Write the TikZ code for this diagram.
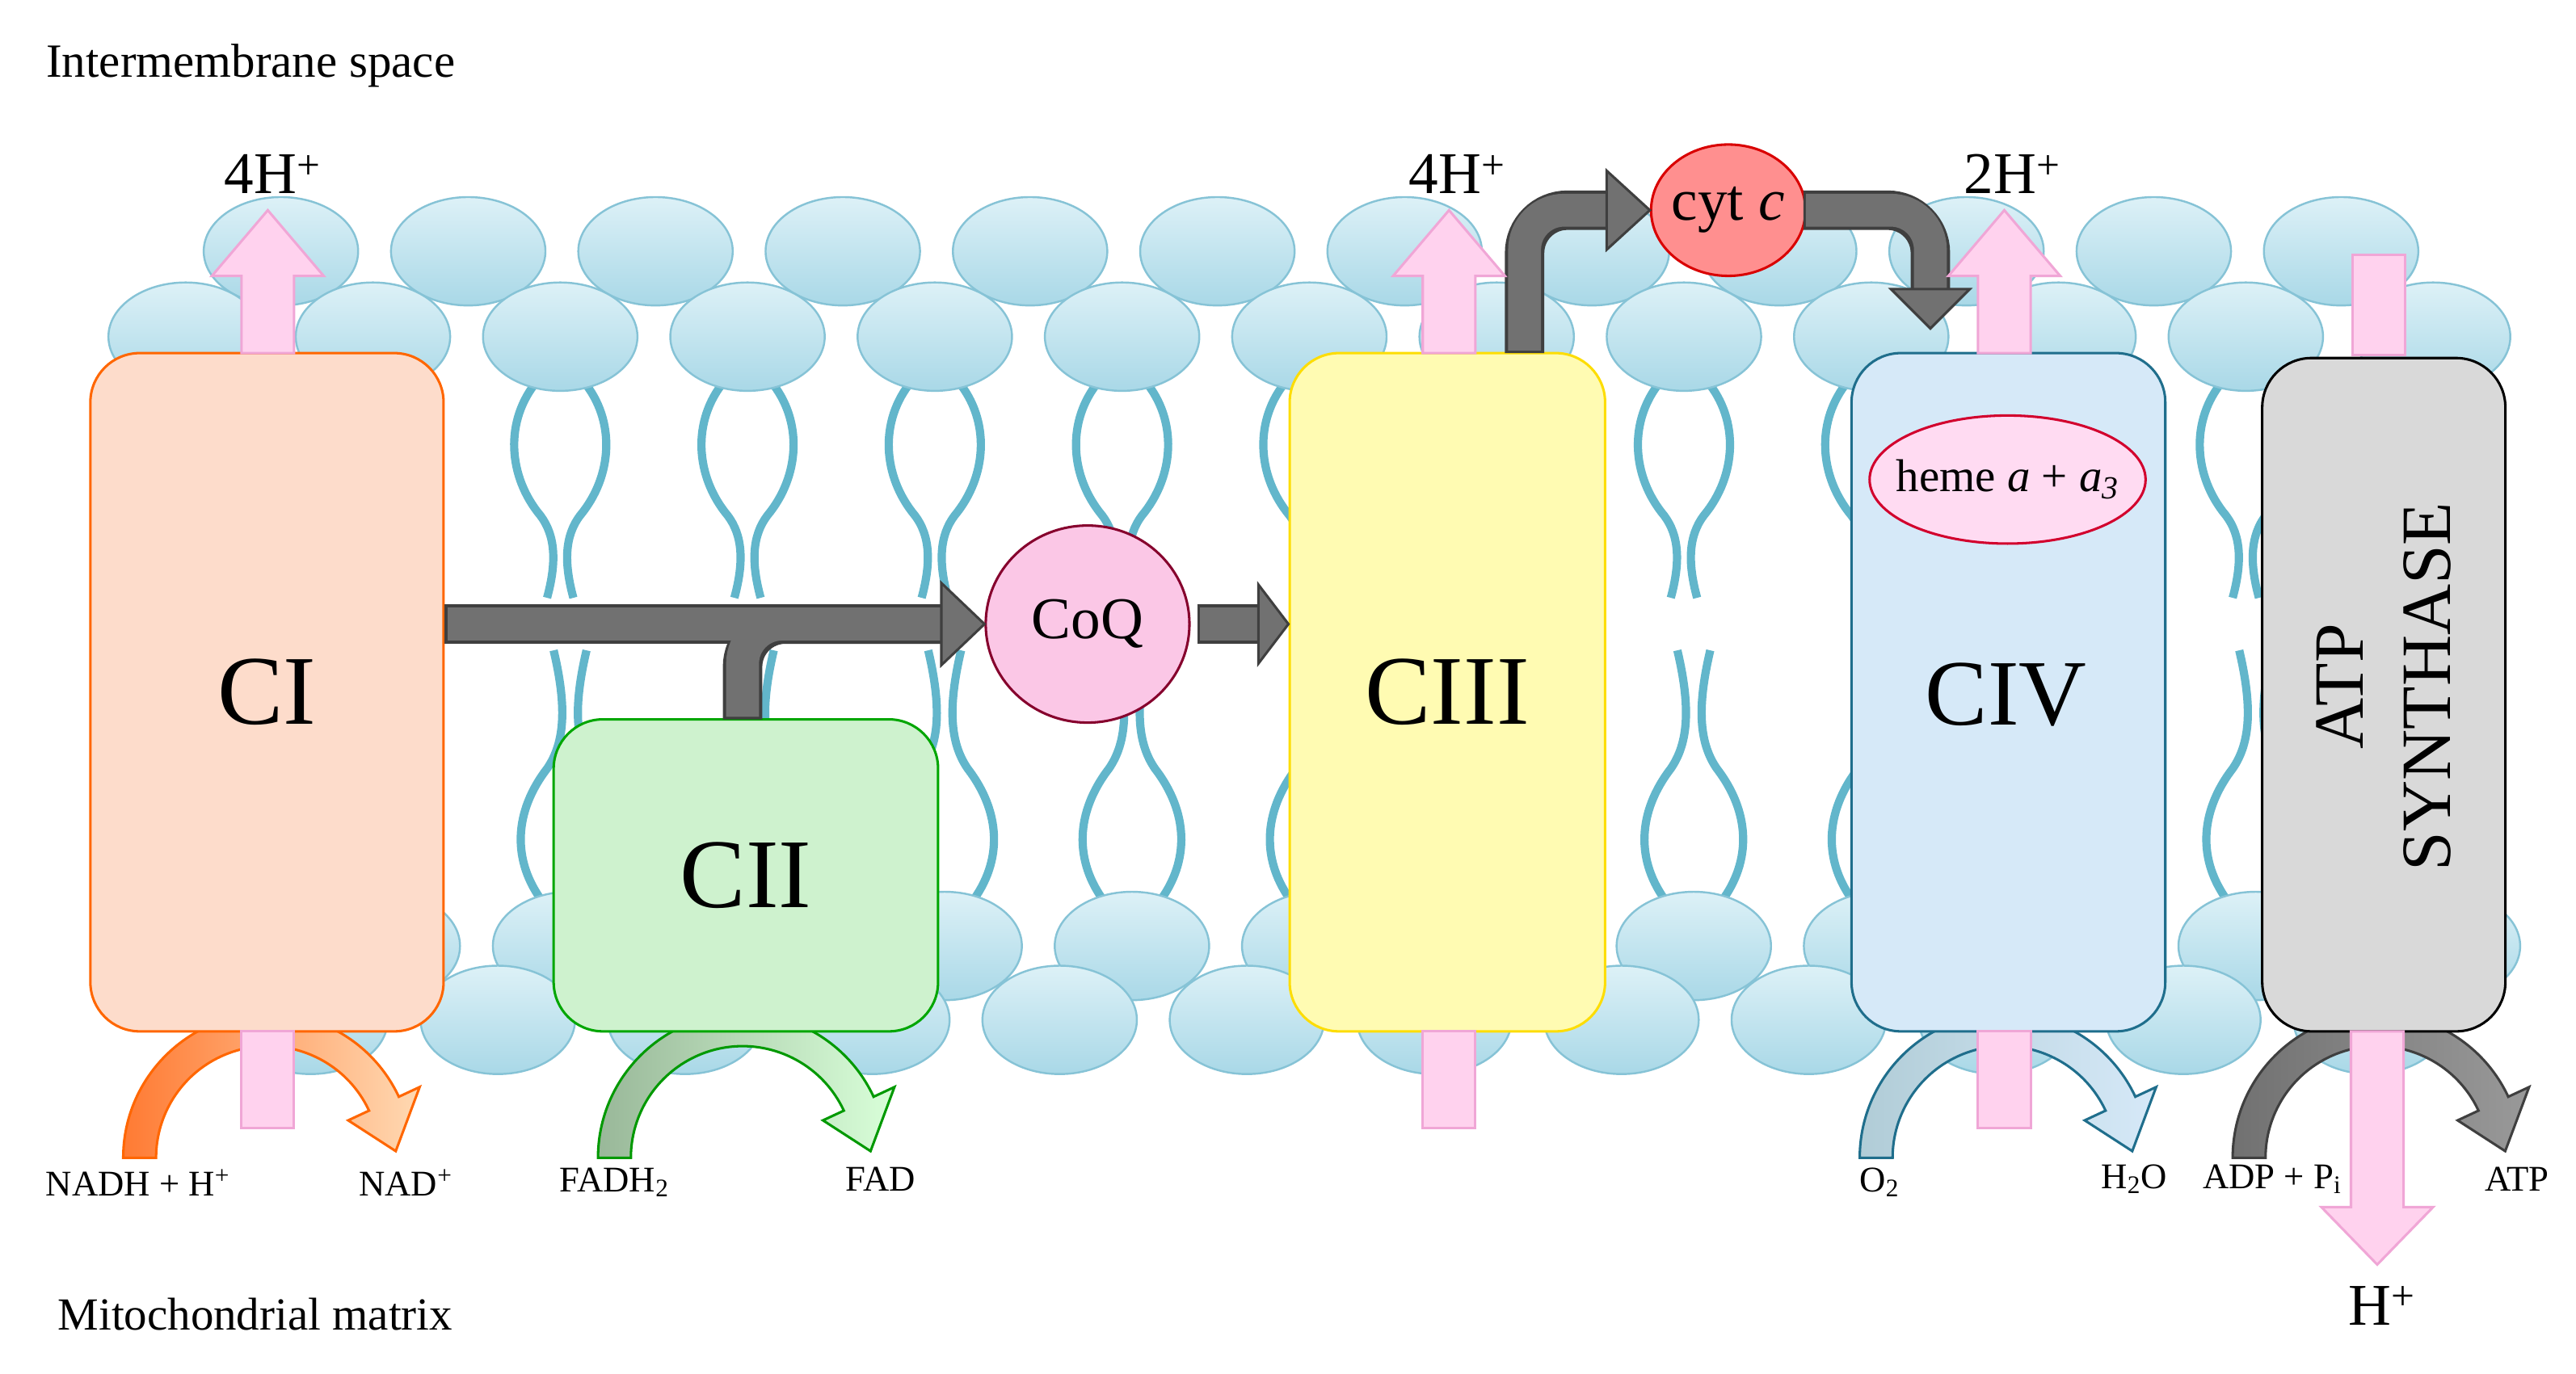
\documentclass[tikz,border=0pt]{standalone}
\usepackage{fontspec}
\setmainfont{Liberation Serif}
\usetikzlibrary{calc,shapes.geometric}
\definecolor{lipB}{HTML}{86C3D6}
\definecolor{lipT}{HTML}{DDF1F7}
\definecolor{lipD}{HTML}{A9D8E7}
\definecolor{tail}{HTML}{62B6CB}
\definecolor{pinkF}{HTML}{FFD2EE}
\definecolor{pinkB}{HTML}{F0A6D6}
\definecolor{grayF}{HTML}{717171}
\definecolor{grayB}{HTML}{3F3F3F}
\definecolor{ciF}{HTML}{FDDCCB}
\definecolor{ciiF}{HTML}{CEF2CE}
\definecolor{ciiiF}{HTML}{FFFBB2}
\definecolor{civF}{HTML}{D6E9F8}
\definecolor{civB}{HTML}{1F6E8C}
\newcommand\pUp[3]{\filldraw[proton] (#1-16,#2) -- (#1-16,#3+40) -- (#1-34,#3+40) -- (#1,#3) -- (#1+34,#3+40) -- (#1+16,#3+40) -- (#1+16,#2) -- cycle;}
\newcommand\bendArr[3]{\filldraw[#3,line width=1.5pt] ({#1-88},#2) arc[start angle=180,end angle=335,radius=88] -- ($(#1,#2)+(335:102)$) -- ($(#1,#2)+(357:78)$) -- ($(#1,#2)+(335:54)$) -- ($(#1,#2)+(335:68)$) arc[start angle=335,end angle=180,radius=68] -- cycle;}
\begin{document}
\begin{tikzpicture}[x=1pt,y=-1pt,
  head/.style={draw=lipB,line width=1.2pt,top color=lipT,bottom color=lipD},
  tl/.style={draw=tail,line width=5pt},
  cx/.style={rounded corners=30pt,line width=1.5pt,inner sep=0pt},
  proton/.style={fill=pinkF,draw=pinkB,line width=1.5pt},
  gsh/.style={draw=grayB,line width=24pt,rounded corners=26pt},
  gin/.style={draw=grayF,line width=20pt,rounded corners=24pt},
  gtip/.style={fill=grayF,draw=grayB,line width=1.5pt},
  lab/.style={inner sep=0pt,font=\fontsize{22}{26}\selectfont}]
\useasboundingbox (0,0) rectangle (1568,836.5);
\fill[white] (0,0) rectangle (1568,836.5);
% lipid bilayer
\begin{scope}
\clip (60,0) rectangle (1548,836);
\foreach \x in {171,285,...,1425} \draw[head] (\x,153) ellipse[x radius=47,y radius=33];
\foreach \x in {113,227,...,1481} {
 \draw[tl] (\x-14,232) .. controls (\x-34,256) and (\x-32,290) .. (\x-12,314) .. controls (\x-3,326) and (\x-2,342) .. (\x-8,364);
 \draw[tl] (\x+14,232) .. controls (\x+34,256) and (\x+32,290) .. (\x+12,314) .. controls (\x+3,326) and (\x+2,342) .. (\x+8,364);
 \draw[head] (\x,205) ellipse[x radius=47,y radius=33];}
\foreach \x in {119,233,...,1487} {
 \draw[tl] (\x-16,550) .. controls (\x-36,524) and (\x-34,494) .. (\x-14,468) .. controls (\x-3,452) and (\x-2,430) .. (\x-10,396);
 \draw[tl] (\x+16,550) .. controls (\x+36,524) and (\x+34,494) .. (\x+14,468) .. controls (\x+3,452) and (\x+2,430) .. (\x+10,396);
 \draw[head] (\x,576) ellipse[x radius=47,y radius=33];}
\foreach \x in {189,303,...,1443} \draw[head] (\x,621) ellipse[x radius=47,y radius=33];
\end{scope}
% curved arrows (behind boxes)
\bendArr{163}{705}{draw=orange!80!red,left color=orange!70!red!80,right color=orange!30}
\bendArr{452}{705}{draw=green!60!black,left color=green!30!black!40!white,right color=green!15}
\bendArr{1220}{705}{draw=civB,left color=civB!35!white,right color=civF}
\bendArr{1447}{705}{draw=grayB,left color=grayF,right color=gray!80}
% complexes
\node[cx,draw=orange!80!red,fill=ciF,minimum width=215pt,minimum height=413pt,font=\fontsize{60}{66}\selectfont] (CI) at (162.5,421.5) {CI};
\node[cx,draw=green!65!black,fill=ciiF,minimum width=234pt,minimum height=190pt,font=\fontsize{60}{66}\selectfont] (CII) at (454,533) {CII};
\node[cx,draw=yellow!80!orange,fill=ciiiF,minimum width=192pt,minimum height=413pt,font=\fontsize{60}{66}\selectfont] (CIII) at (881,421.5) {CIII};
\node[cx,draw=civB,fill=civF,minimum width=191pt,minimum height=413pt] (CIV) at (1222.5,421.5) {};
\node[font=\fontsize{57}{62}\selectfont] (CIVt) at (1221,423) {CIV};
\node[cx,draw=black,fill=gray!30,minimum width=148pt,minimum height=410pt] (ATP) at (1451,423) {};
\node[rotate=90,align=center,font=\fontsize{43}{53}\selectfont] (ATPt) at (1451,418) {ATP\\SYNTHASE};
\node[ellipse,draw=purple!70!red,fill=pink!70!magenta!30,line width=1.5pt,minimum width=168pt,minimum height=78pt,inner sep=0pt,label={[font=\fontsize{28}{32}\selectfont]center:heme \textit{a} + \textit{a}\textsubscript{\textit{3}}}] (heme) at (1222,292) {};
\node[ellipse,draw=purple!70!black,fill=magenta!22,line width=1.5pt,minimum width=124pt,minimum height=120pt,inner sep=0pt,font=\fontsize{36}{40}\selectfont] (CoQ) at (662,380) {CoQ};
\node[ellipse,draw=red!85!black,fill=red!25!pink,line width=1.5pt,minimum width=94pt,minimum height=80pt,inner sep=0pt,label={[font=\fontsize{36}{40}\selectfont]center:cyt \textit{c}}] (cyt) at (1052,128) {};
% gray electron arrows
\draw[gsh] (CI.east |- CoQ) -- (575,380);
\draw[gsh] (452,438) -- (452,380) -- (575,380);
\draw[gin] (CI.east |- CoQ) ++(1.5,0) -- (575,380);
\draw[gin] (452,436.5) -- (452,380) -- (576,380);
\filldraw[gtip] (573,355) -- (CoQ.west) -- (573,405) -- cycle;
\draw[gsh] (CoQ.east) ++(4,0) -- (768,380);
\draw[gin] (CoQ.east) ++(5.5,0) -- (769,380);
\filldraw[gtip] (766,356) -- (CIII.west |- CoQ) -- (766,404) -- cycle;
\draw[gsh] (928,215) -- (928,128) -- (980,128);
\draw[gin] (928,213.5) -- (928,128) -- (981,128);
\filldraw[gtip] (978,104) -- (cyt.west) -- (978,152) -- cycle;
\draw[gsh] (cyt.east) ++(-2,0) -- (1175,128) -- (1175,178);
\draw[gin] (cyt.east) ++(-0.5,0) -- (1175,128) -- (1175,179);
\filldraw[gtip] (1151,176) -- (1175,200) -- (1199,176) -- cycle;
% proton arrows
\pUp{163}{215}{128}
\pUp{882}{215}{128}
\pUp{1220}{215}{128}
\filldraw[proton] (1432,155) rectangle (1464,216);
\filldraw[proton] (147,628) rectangle (179,687);
\filldraw[proton] (866,628) rectangle (898,687);
\filldraw[proton] (1204,628) rectangle (1236,687);
\filldraw[proton] (1431,628) -- (1431,735) -- (1413,735) -- (1447,770) -- (1481,735) -- (1463,735) -- (1463,628) -- cycle;
% labels
\node[anchor=west,inner sep=0pt,font=\fontsize{29}{34}\selectfont] (ims) at (28,40) {Intermembrane space};
\node[anchor=west,inner sep=0pt,font=\fontsize{28}{34}\selectfont] (mm) at (35,800) {Mitochondrial matrix};
\node[font=\fontsize{36}{40}\selectfont,inner sep=0pt] (h1) at (166,106) {4H\textsuperscript{+}};
\node[font=\fontsize{36}{40}\selectfont,inner sep=0pt] (h3) at (887,106) {4H\textsuperscript{+}};
\node[font=\fontsize{36}{40}\selectfont,inner sep=0pt] (h4) at (1225,106) {2H\textsuperscript{+}};
\node[font=\fontsize{36}{40}\selectfont,inner sep=0pt] (h5) at (1450,795) {H\textsuperscript{+}};
\node[lab] (l1) at (84,720) {NADH + H\textsuperscript{+}};
\node[lab] (l2) at (247,720) {NAD\textsuperscript{+}};
\node[lab] (l3) at (374,720) {FADH\textsubscript{2}};
\node[lab] (l4) at (536,718) {FAD};
\node[lab] (l5) at (1144,720) {O\textsubscript{2}};
\node[lab] (l6) at (1299,718) {H\textsubscript{2}O};
\node[lab] (l7) at (1383,718) {ADP + P\textsubscript{i}};
\node[lab] (l8) at (1532,718) {ATP};
\end{tikzpicture}
\end{document}
